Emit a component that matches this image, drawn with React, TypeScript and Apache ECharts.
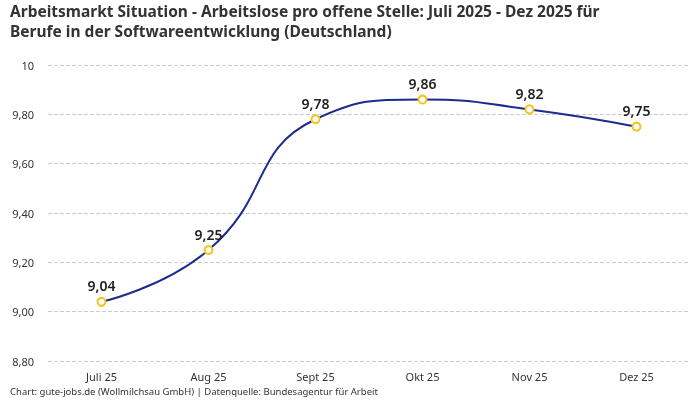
import React, { useEffect, useRef } from 'react'
import * as echarts from 'echarts'

const months = ['Juli 25', 'Aug 25', 'Sept 25', 'Okt 25', 'Nov 25', 'Dez 25']
const ratio = [9.04, 9.25, 9.78, 9.86, 9.82, 9.75]

const fmt = (v: number) => (v === 10 ? '10' : v.toFixed(2).replace('.', ','))

const FONT = '"Noto Sans", "DejaVu Sans", sans-serif'

const App: React.FC = () => {
    const chartRef = useRef<HTMLDivElement | null>(null)

    useEffect(() => {
        if (!chartRef.current) return
        const chart = echarts.init(chartRef.current, undefined, { renderer: 'svg' })

        chart.setOption({
            animation: false,
            textStyle: { fontFamily: FONT },
            title: {
                text: 'Arbeitsmarkt Situation - Arbeitslose pro offene Stelle: Juli 2025 - Dez 2025 für\nBerufe in der Softwareentwicklung (Deutschland)',
                left: 10,
                top: 1,
                padding: 0,
                textStyle: { fontSize: 15.5, fontWeight: 'bold', color: '#333', lineHeight: 20, fontFamily: FONT },
            },
            graphic: [
                {
                    type: 'text',
                    left: 10,
                    top: 386,
                    style: {
                        text: 'Chart: gute-jobs.de (Wollmilchsau GmbH) | Datenquelle: Bundesagentur für Arbeit',
                        fontSize: 9.5,
                        fill: '#333',
                        fontFamily: FONT,
                    },
                },
            ],
            grid: { left: 48, right: 10, top: 65, bottom: 39, containLabel: false },
            xAxis: {
                type: 'category',
                data: months,
                boundaryGap: true,
                axisLine: { show: false },
                axisTick: { show: false },
                axisLabel: { color: '#333', fontSize: 11, margin: 10 },
            },
            yAxis: {
                type: 'value',
                min: 8.8,
                max: 10,
                interval: 0.2,
                axisLabel: { color: '#333', fontSize: 11, formatter: fmt, margin: 14 },
                splitLine: { lineStyle: { type: 'dashed', color: '#ccc' } },
            },
            series: [
                {
                    type: 'line',
                    data: ratio,
                    smooth: 0.5,
                    symbol: 'circle',
                    symbolSize: 8,
                    lineStyle: { color: '#1c2b8e', width: 2 },
                    itemStyle: { color: '#fff', borderColor: '#f6c21c', borderWidth: 2 },
                    label: {
                        show: true,
                        position: 'top',
                        distance: 4,
                        formatter: (p: any) => fmt(p.value),
                        fontSize: 14,
                        fontWeight: 600,
                        color: '#222',
                    },
                },
            ],
        })

        return () => chart.dispose()
    }, [])

    return <div ref={chartRef} style={{ position: 'fixed', left: 0, top: 0, width: 700, height: 400 }} />
}

export default App
